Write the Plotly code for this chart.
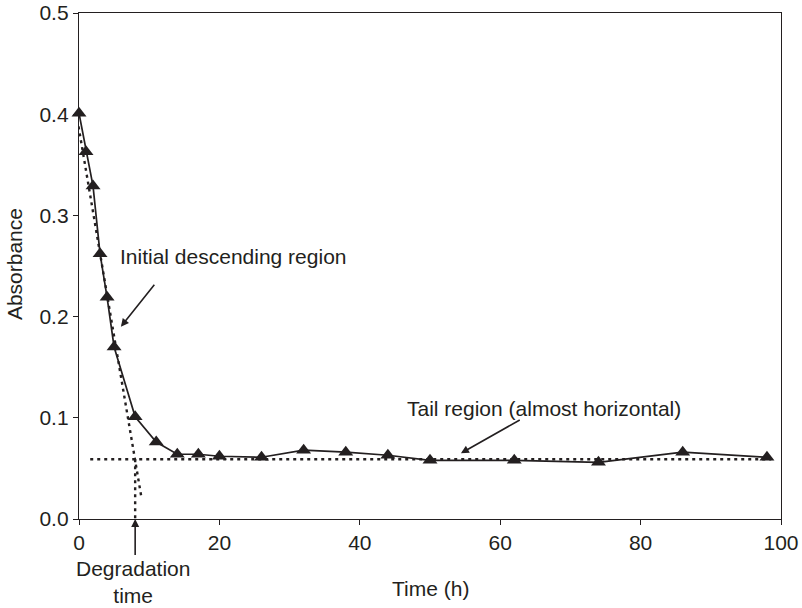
import plotly.graph_objects as go

# Data
time_h = [0, 1, 2, 3, 4, 5, 8, 11, 14, 17, 20, 26, 32, 38, 44, 50, 62, 74, 86, 98]
absorbance = [0.401, 0.363, 0.329, 0.262, 0.219, 0.170, 0.101, 0.076, 0.064, 0.064,
              0.062, 0.061, 0.068, 0.066, 0.063, 0.058, 0.058, 0.056, 0.066, 0.061]

# Guide lines
steep_x = [-0.9, 8.9]
steep_y = [0.422, 0.021]
tail_x = [1.6, 98.6]
tail_y = [0.059, 0.059]
deg_x = [8.0, 8.0]
deg_y = [0.059, 0.0]

x_ticks = [0, 20, 40, 60, 80, 100]
y_ticks = [0, 0.1, 0.2, 0.3, 0.4, 0.5]

ink = "#231f20"
font_family = "Liberation Sans, Arial, sans-serif"
fs = 21

fig = go.Figure()
dot = dict(color=ink, width=2.4, dash="3px,4px")
fig.add_trace(go.Scatter(x=steep_x, y=steep_y, mode="lines", line=dot, hoverinfo="skip"))
fig.add_trace(go.Scatter(x=tail_x, y=tail_y, mode="lines", line=dot, hoverinfo="skip"))
fig.add_trace(go.Scatter(x=deg_x, y=deg_y, mode="lines", line=dot, hoverinfo="skip"))
fig.add_trace(go.Scatter(
    x=time_h, y=absorbance, mode="lines+markers",
    line=dict(color=ink, width=1.7),
    marker=dict(symbol="triangle-up", size=13, color=ink),
    cliponaxis=False,
))

arrow = dict(showarrow=True, arrowhead=2, arrowsize=1, arrowwidth=1.6,
             arrowcolor=ink, xref="x", yref="y", axref="x", ayref="y",
             text="", standoff=0, startstandoff=0)
fig.add_annotation(x=5.97, y=0.190, ax=10.9, ay=0.233, **arrow)
fig.add_annotation(x=54.4, y=0.065, ax=63.0, ay=0.0987, **arrow)
fig.add_annotation(x=8.0, y=0.0, ax=8.0, ay=-0.037, **arrow)

tfont = dict(size=fs, color=ink, family=font_family)
fig.add_annotation(x=5.55, y=0.259, text="Initial descending region", xanchor="left",
                   yanchor="middle", showarrow=False, xref="x", yref="y", font=tfont)
fig.add_annotation(x=46.5, y=0.1096, text="Tail region (almost horizontal)", xanchor="left",
                   yanchor="middle", showarrow=False, xref="x", yref="y", font=tfont)
fig.add_annotation(x=7.7, y=-0.124, text="Degradation<br>time", xanchor="center",
                   yanchor="middle", showarrow=False, xref="x", yref="paper", font=tfont)
# Axis titles
fig.add_annotation(x=0.5, y=-0.138, text="Time (h)", xanchor="center", yanchor="middle",
                   showarrow=False, xref="paper", yref="paper", font=tfont)
fig.add_annotation(x=-0.091, y=0.504, text="Absorbance", textangle=-90, xanchor="center",
                   yanchor="middle", showarrow=False, xref="paper", yref="paper", font=tfont)

axis_common = dict(showgrid=False, zeroline=False, showline=True, linecolor=ink, linewidth=1.3,
                   mirror=True, ticks="outside", ticklen=5, tickcolor=ink, tickwidth=1.3,
                   tickfont=tfont, automargin=False)
fig.update_xaxes(range=[0, 100], tickvals=x_ticks, **axis_common)
fig.update_yaxes(range=[0, 0.5], tickvals=y_ticks, tickformat=".1f", **axis_common)
fig.update_layout(
    width=802, height=608,
    margin=dict(l=79, r=21, t=13, b=89, autoexpand=False),
    paper_bgcolor="white", plot_bgcolor="white",
    showlegend=False,
    font=dict(family=font_family, size=fs, color=ink),
)
fig.write_html("out.html")
